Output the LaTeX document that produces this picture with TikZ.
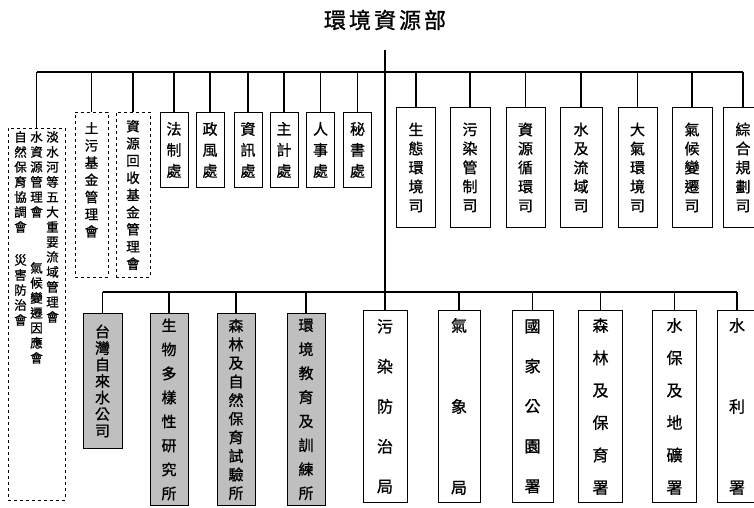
\documentclass[tikz,border=0pt]{standalone}
\usepackage{fontspec}
\usepackage{tikz}
\newfontfamily\cjk[FakeBold=1]{Noto Sans CJK TC}
\usetikzlibrary{calc,positioning}
\tikzstyle{council} = [draw,dashed,line width=0.9pt,inner sep=0pt,anchor=north,align=center,font=\cjk\fontsize{13.5}{17.2}\selectfont]
\tikzstyle{column} = [inner sep=0pt,anchor=north,align=center,font=\cjk\fontsize{12.5}{15}\selectfont]
\tikzstyle{office} = [draw,line width=0.9pt,minimum width=28pt,minimum height=75pt,inner sep=0pt,anchor=north,align=center,font=\cjk\fontsize{15}{21}\selectfont]
\tikzstyle{department} = [draw,line width=0.9pt,minimum width=39pt,minimum height=120pt,inner sep=0pt,anchor=north,align=center,font=\cjk\fontsize{15}{19}\selectfont]
\tikzstyle{institute} = [draw,line width=0.9pt,fill=gray!50,minimum width=38pt,minimum height=192pt,inner sep=0pt,anchor=north,align=center,font=\cjk\fontsize{15}{24}\selectfont]
\tikzstyle{agency} = [draw,line width=0.9pt,minimum width=44pt,minimum height=192pt,inner sep=0pt,anchor=north,align=center,font=\cjk\fontsize{16}{40}\selectfont]
\tikzstyle{branch} = [line width=1.1pt]

\begin{document}
\begin{tikzpicture}[x=1pt,y=-1pt]
	\clip (0,0) rectangle (754,507);
	\node (ministry) at (385,20) {\cjk\fontsize{22}{22}\selectfont 環\hspace{3pt}境\hspace{3pt}資\hspace{3pt}源\hspace{3pt}部};
	\coordinate (upper) at (385,72);
	\coordinate (lower) at (385,292);

	\node (basin)[council,minimum width=57pt,minimum height=372pt] at (36.5,128) {};
	\node (basin1)[column] at (52.5,131) {淡\\水\\河\\等\\五\\大\\重\\要\\流\\域\\管\\理\\會};
	\node (basin2)[column] at (36.5,131) {水\\資\\源\\管\\理\\會\\[41pt]氣\\候\\變\\遷\\因\\應\\會};
	\node (basin3)[column] at (20.5,131) {自\\然\\保\\育\\協\\調\\會\\[18pt]災\\害\\防\\治\\會};
	\node (tuwu)[council,minimum width=33pt,minimum height=165pt] at (91.5,112) {土\\污\\基\\金\\管\\理\\會\\[14pt]\mbox{}};
	\node (recycle)[council,minimum width=34pt,minimum height=165pt] at (133,112) {資\\源\\回\\收\\基\\金\\管\\理\\會};

	\node (legal)[office] at (174,112) {法\\制\\處};
	\node (ethics)[office] at (210,112) {政\\風\\處};
	\node (info)[office] at (248,112) {資\\訊\\處};
	\node (account)[office] at (284,112) {主\\計\\處};
	\node (personnel)[office] at (320.5,112) {人\\事\\處};
	\node (secretary)[office] at (357.5,112) {秘\\書\\處};

	\node (ecology)[department] at (416,107) {生\\態\\環\\境\\司};
	\node (pollution)[department,minimum width=40pt] at (470,107) {污\\染\\管\\制\\司};
	\node (circular)[department] at (525.5,107) {資\\源\\循\\環\\司};
	\node (water)[department,minimum width=42pt] at (581,107) {水\\及\\流\\域\\司};
	\node (air)[department] at (637.5,107) {大\\氣\\環\\境\\司};
	\node (climate)[department,minimum width=40pt] at (692,107) {氣\\候\\變\\遷\\司};
	\node (planning)[department,minimum width=40pt] at (743,107) {綜\\合\\規\\劃\\司};

	\node (taiwater)[institute,minimum width=39pt,minimum height=135pt,font=\cjk\fontsize{15}{16.5}\selectfont] at (102.5,313) {台\\灣\\自\\來\\水\\公\\司};
	\node (biodiv)[institute] at (169,313) {生\\物\\多\\樣\\性\\研\\究\\所};
	\node (forestlab)[institute,font=\cjk\fontsize{15}{18.6}\selectfont] at (236,313) {森\\林\\及\\自\\然\\保\\育\\試\\驗\\所};
	\node (training)[institute] at (306,313) {環\\境\\教\\育\\及\\訓\\練\\所};

	\node (epb)[agency] at (385,310) {污\\染\\防\\治\\局};
	\node (weather)[agency,minimum width=42pt,font=\cjk\fontsize{16}{81}\selectfont] at (459,310) {氣\\象\\局};
	\node (parks)[agency,minimum width=41pt] at (532.5,310) {國\\家\\公\\園\\署};
	\node (forestry)[agency,font=\cjk\fontsize{16}{32.4}\selectfont] at (600.5,310) {森\\林\\及\\保\\育\\署};
	\node (soil)[agency,font=\cjk\fontsize{16}{32.4}\selectfont] at (674.5,310) {水\\保\\及\\地\\礦\\署};
	\node (hydro)[agency,minimum width=40pt,font=\cjk\fontsize{16}{81}\selectfont] at (737,310) {水\\利\\署};

	\draw[branch] ([yshift=-16pt]ministry.south) -- (epb.north);
	\draw[branch] (basin.north |- upper) -- (planning.north |- upper);
	\draw[branch] (basin.north) -- (basin.north |- upper);
	\draw[branch] (tuwu.north) -- (tuwu.north |- upper);
	\draw[branch] (recycle.north) -- (recycle.north |- upper);
	\draw[branch] (legal.north) -- (legal.north |- upper);
	\draw[branch] (ethics.north) -- (ethics.north |- upper);
	\draw[branch] (info.north) -- (info.north |- upper);
	\draw[branch] (account.north) -- (account.north |- upper);
	\draw[branch] (personnel.north) -- (personnel.north |- upper);
	\draw[branch] (secretary.north) -- (secretary.north |- upper);
	\draw[branch] (ecology.north) -- (ecology.north |- upper);
	\draw[branch] (pollution.north) -- (pollution.north |- upper);
	\draw[branch] (circular.north) -- (circular.north |- upper);
	\draw[branch] (water.north) -- (water.north |- upper);
	\draw[branch] (air.north) -- (air.north |- upper);
	\draw[branch] (climate.north) -- (climate.north |- upper);
	\draw[branch] (planning.north) -- (planning.north |- upper);

	\draw[branch] (taiwater.north |- lower) -- (hydro.north |- lower);
	\draw[branch] (taiwater.north) -- (taiwater.north |- lower);
	\draw[branch] (biodiv.north) -- (biodiv.north |- lower);
	\draw[branch] (forestlab.north) -- (forestlab.north |- lower);
	\draw[branch] (training.north) -- (training.north |- lower);
	\draw[branch] (weather.north) -- (weather.north |- lower);
	\draw[branch] (parks.north) -- (parks.north |- lower);
	\draw[branch] (forestry.north) -- (forestry.north |- lower);
	\draw[branch] (soil.north) -- (soil.north |- lower);
	\draw[branch] (hydro.north) -- (hydro.north |- lower);
\end{tikzpicture}
\end{document}
